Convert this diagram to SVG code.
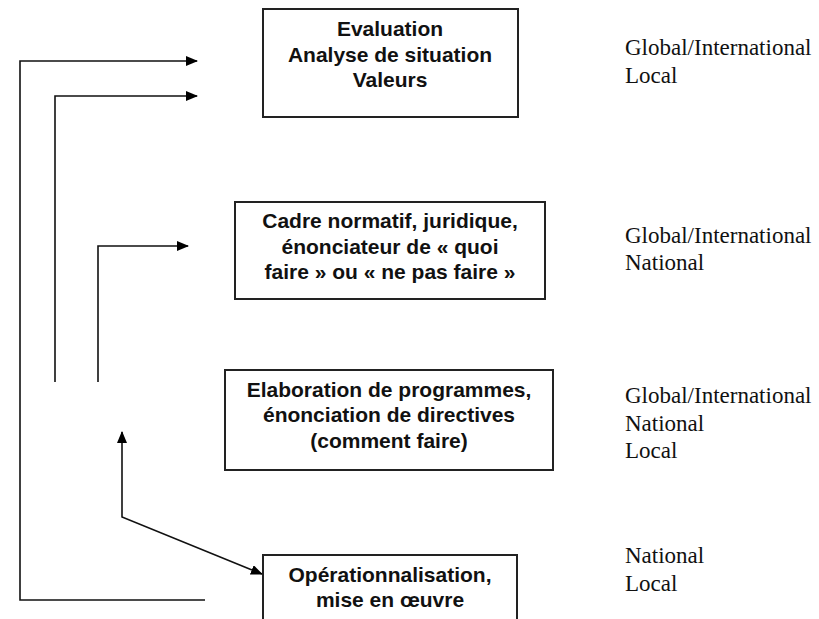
<svg xmlns="http://www.w3.org/2000/svg" width="819" height="619" viewBox="0 0 819 619">
<defs>
<marker id="ah" markerWidth="12" markerHeight="10" refX="11" refY="5" orient="auto" markerUnits="userSpaceOnUse">
<path d="M0,0 L12,5 L0,10 Z" fill="#000"/>
</marker>
<marker id="ahs" markerWidth="12" markerHeight="10" refX="1" refY="5" orient="auto" markerUnits="userSpaceOnUse">
<path d="M12,0 L0,5 L12,10 Z" fill="#000"/>
</marker>
<style>
.box{fill:#fff;stroke:#222;stroke-width:2}
.bt{font-family:"Liberation Sans",Arial,sans-serif;font-weight:bold;font-size:21px;fill:#111;text-anchor:middle}
.lv{font-family:"Liberation Serif","Times New Roman",serif;font-size:23px;fill:#111}
.cn{fill:none;stroke:#111;stroke-width:1.6}
</style>
</defs>
<rect width="819" height="619" fill="#fff"/>
<g id="connectors">
<polyline class="cn" points="205,600 20,600 20,61 197,61" marker-end="url(#ah)"/>
<polyline class="cn" points="55,382 55,96 197,96" marker-end="url(#ah)"/>
<polyline class="cn" points="98,382 98,246 188,246" marker-end="url(#ah)"/>
<polyline class="cn" points="122,432 122,517 262,574" marker-start="url(#ahs)" marker-end="url(#ah)"/>
</g>
<g id="n1">
<rect class="box" x="263" y="9" width="255" height="108"/>
<text class="bt" x="390" y="36">Evaluation</text>
<text class="bt" x="390" y="62">Analyse de situation</text>
<text class="bt" x="390" y="87">Valeurs</text>
</g>
<g id="n2">
<rect class="box" x="235" y="202" width="310" height="97"/>
<text class="bt" x="390" y="228">Cadre normatif, juridique,</text>
<text class="bt" x="390" y="254">énonciateur de « quoi</text>
<text class="bt" x="390" y="279">faire » ou « ne pas faire »</text>
</g>
<g id="n3">
<rect class="box" x="225" y="370" width="328" height="100"/>
<text class="bt" x="389" y="397">Elaboration de programmes,</text>
<text class="bt" x="389" y="422">énonciation de directives</text>
<text class="bt" x="389" y="448">(comment faire)</text>
</g>
<g id="n4">
<rect class="box" x="263" y="555" width="254" height="80"/>
<text class="bt" x="390" y="582">Opérationnalisation,</text>
<text class="bt" x="390" y="607">mise en œuvre</text>
</g>
<g id="levels">
<text class="lv" x="625" y="55">Global/International</text>
<text class="lv" x="625" y="83">Local</text>
<text class="lv" x="625" y="243">Global/International</text>
<text class="lv" x="625" y="270">National</text>
<text class="lv" x="625" y="403">Global/International</text>
<text class="lv" x="625" y="431">National</text>
<text class="lv" x="625" y="458">Local</text>
<text class="lv" x="625" y="563">National</text>
<text class="lv" x="625" y="591">Local</text>
</g>
</svg>
